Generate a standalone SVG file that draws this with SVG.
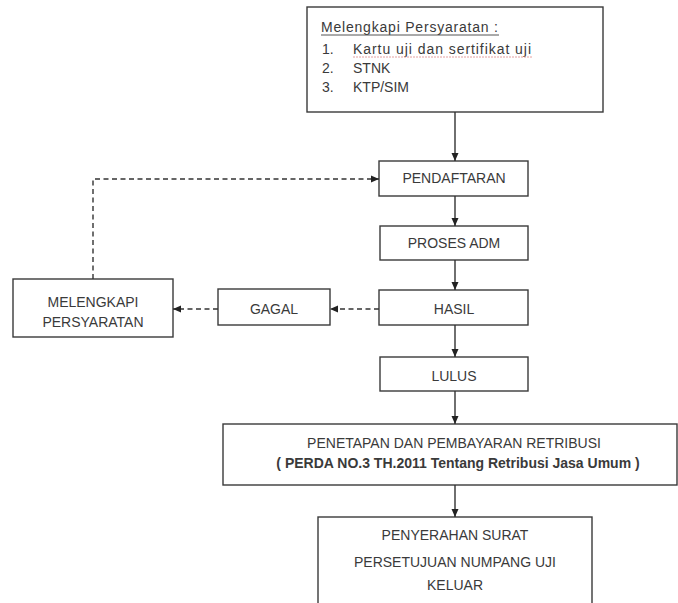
<svg xmlns="http://www.w3.org/2000/svg" width="678" height="603" viewBox="0 0 678 603">
  <defs>
    <style>
      .box { fill: #ffffff; stroke: #3a3a3a; stroke-width: 1.4; }
      .lbl { font-family: "Liberation Sans", Arial, sans-serif; font-size: 14px; fill: #3a3a3a; text-anchor: middle; }
      .txt { font-family: "Liberation Sans", Arial, sans-serif; font-size: 14px; fill: #3a3a3a; }
      .conn { stroke: #333333; stroke-width: 1.4; fill: none; }
      .dash { stroke-dasharray: 5 3.5; }
    </style>
    <marker id="arr" markerUnits="userSpaceOnUse" markerWidth="8" markerHeight="8" viewBox="0 0 8 8" refX="8" refY="4" orient="auto">
      <path d="M0,0.5 L8,4 L0,7.5 Z" fill="#222222"/>
    </marker>
  </defs>
  <rect x="0" y="0" width="678" height="603" fill="#ffffff"/>

  <g id="persyaratan">
    <rect class="box" x="307" y="7" width="296" height="105" stroke-width="2"/>
    <text class="txt" x="321" y="32" font-size="15" textLength="177">Melengkapi Persyaratan :</text>
    <line x1="321" y1="35" x2="499" y2="35" stroke="#555" stroke-width="1"/>
    <text class="txt" x="322" y="54">1.</text>
    <text class="txt" x="353" y="54" font-size="15" textLength="178">Kartu uji dan sertifikat uji</text>
    <line x1="353" y1="57" x2="532" y2="57" stroke="#e3a0a0" stroke-width="1" stroke-dasharray="2 1"/>
    <text class="txt" x="322" y="73">2.</text>
    <text class="txt" x="353" y="73">STNK</text>
    <text class="txt" x="322" y="92">3.</text>
    <text class="txt" x="353" y="92">KTP/SIM</text>
  </g>

  <g id="pendaftaran">
    <rect class="box" x="379" y="161" width="149" height="35"/>
    <text class="lbl" x="454" y="183">PENDAFTARAN</text>
  </g>

  <g id="proses-adm">
    <rect class="box" x="380" y="226" width="148" height="34"/>
    <text class="lbl" x="454" y="248">PROSES ADM</text>
  </g>

  <g id="hasil">
    <rect class="box" x="379" y="290" width="149" height="35"/>
    <text class="lbl" x="454" y="314">HASIL</text>
  </g>

  <g id="lulus">
    <rect class="box" x="380" y="357" width="148" height="34"/>
    <text class="lbl" x="454" y="381">LULUS</text>
  </g>

  <g id="gagal">
    <rect class="box" x="218" y="289" width="112" height="36"/>
    <text class="lbl" x="274" y="314">GAGAL</text>
  </g>

  <g id="melengkapi">
    <rect class="box" x="13" y="279" width="160" height="58"/>
    <text class="lbl" x="93" y="307">MELENGKAPI</text>
    <text class="lbl" x="93" y="327">PERSYARATAN</text>
  </g>

  <g id="penetapan">
    <rect class="box" x="223" y="424" width="454" height="61" stroke="#6a6a6a" stroke-width="2.2"/>
    <text class="lbl" x="454" y="448">PENETAPAN DAN PEMBAYARAN RETRIBUSI</text>
    <text class="lbl" x="458" y="468" font-weight="bold" font-size="14.8">( PERDA NO.3 TH.2011 Tentang Retribusi Jasa Umum )</text>
  </g>

  <g id="penyerahan">
    <rect class="box" x="318" y="517" width="274" height="100"/>
    <text class="lbl" x="455" y="540">PENYERAHAN SURAT</text>
    <text class="lbl" x="455" y="567">PERSETUJUAN NUMPANG UJI</text>
    <text class="lbl" x="455" y="590">KELUAR</text>
  </g>

  <g id="connectors">
    <line class="conn" x1="455" y1="112" x2="455" y2="161" marker-end="url(#arr)"/>
    <line class="conn" x1="455" y1="196" x2="455" y2="226" marker-end="url(#arr)"/>
    <line class="conn" x1="455" y1="260" x2="455" y2="290" marker-end="url(#arr)"/>
    <line class="conn" x1="455" y1="325" x2="455" y2="357" marker-end="url(#arr)"/>
    <line class="conn" x1="455" y1="391" x2="455" y2="424" marker-end="url(#arr)"/>
    <line class="conn" x1="455" y1="485" x2="455" y2="517" marker-end="url(#arr)"/>
    <line class="conn dash" x1="379" y1="309" x2="330" y2="309" marker-end="url(#arr)"/>
    <line class="conn dash" x1="218" y1="309" x2="173" y2="309" marker-end="url(#arr)"/>
    <polyline class="conn dash" points="93,279 93,179 379,179" marker-end="url(#arr)"/>
  </g>
</svg>
